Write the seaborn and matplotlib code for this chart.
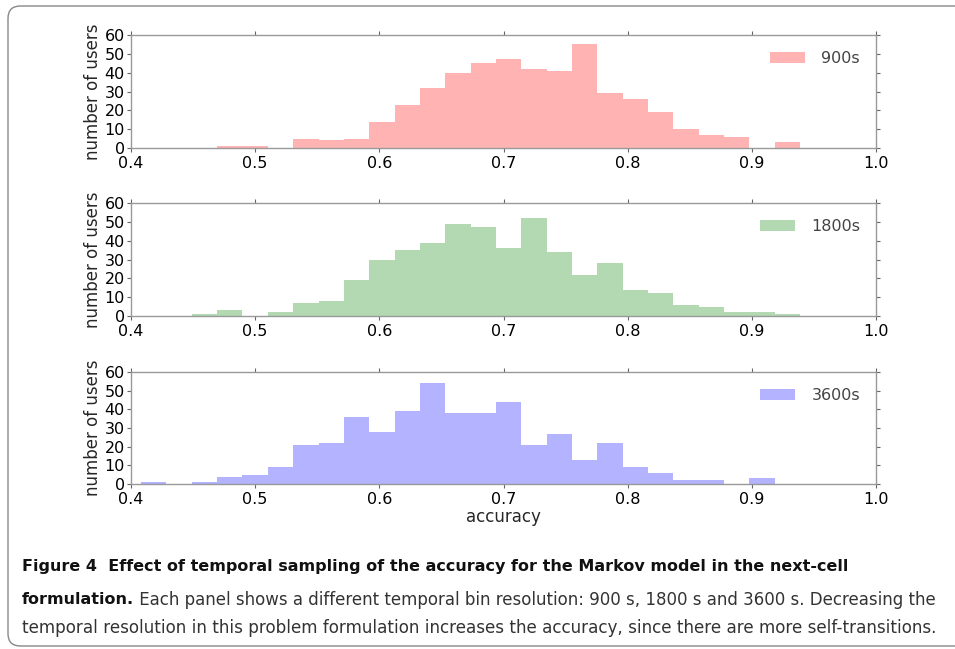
import numpy as np
import pandas as pd
import matplotlib
matplotlib.use('Agg')
import matplotlib.pyplot as plt
import seaborn as sns
from matplotlib.patches import FancyBboxPatch

# bin edges shared by the three panels (k/49)
edges = np.linspace(0, 1, 50)
centers = (edges[:-1] + edges[1:]) / 2

# counts per bin, starting at bin [20/49, 21/49) ~ 0.408
counts_900 = [0, 0, 0, 1, 1, 0, 5, 4, 5, 14, 23, 32, 40, 45, 47, 42, 41, 55,
              29, 26, 19, 10, 7, 6, 0, 3, 0]
counts_1800 = [0, 0, 1, 3, 0, 2, 7, 8, 19, 30, 35, 39, 49, 47, 36, 52, 34, 22,
               28, 14, 12, 6, 5, 2, 2, 1, 0]
counts_3600 = [1, 0, 1, 4, 5, 9, 21, 22, 36, 28, 39, 54, 38, 38, 44, 21, 27, 13,
               22, 9, 6, 2, 2, 0, 3, 0, 0]

labels = ['900s', '1800s', '3600s']
colors = ['#ffb3b3', '#b3d9b3', '#b3b3ff']
x_ticks = [0.4, 0.5, 0.6, 0.7, 0.8, 0.9, 1.0]
y_ticks = [0, 10, 20, 30, 40, 50, 60]

caption_1 = 'Figure 4  Effect of temporal sampling of the accuracy for the Markov model in the next-cell'
caption_2b = 'formulation.'
caption_2 = ' Each panel shows a different temporal bin resolution: 900 s, 1800 s and 3600 s. Decreasing the'
caption_3 = 'temporal resolution in this problem formulation increases the accuracy, since there are more self-transitions.'

sns.set_style('ticks')
plt.rcParams['font.family'] = ['DejaVu Sans']
plt.rcParams['axes.edgecolor'] = '#999999'
plt.rcParams['xtick.color'] = '#666666'
plt.rcParams['ytick.color'] = '#666666'
plt.rcParams['xtick.labelcolor'] = 'black'
plt.rcParams['ytick.labelcolor'] = 'black'

W, H = 955, 649
fig = plt.figure(figsize=(W / 100, H / 100), dpi=100)

# axes placement in pixels: (top, bottom)
panels = [(35, 148), (203, 316), (372, 484)]
left_px, right_px = 131, 876
all_counts = [counts_900, counts_1800, counts_3600]
offset = 20

for i, (top, bot) in enumerate(panels):
    ax = fig.add_axes([left_px / W, 1 - bot / H, (right_px - left_px) / W, (bot - top) / H])
    c = np.zeros(len(centers))
    c[offset:offset + len(all_counts[i])] = all_counts[i]
    df = pd.DataFrame({'accuracy': centers, 'users': c})
    sns.histplot(data=df, x='accuracy', weights='users', bins=list(edges), element='step', fill=True,
                 color=colors[i], alpha=1, linewidth=0, label=labels[i], ax=ax)
    ax.set_xlim(0.4, 1.0)
    ax.set_ylim(0, 60)
    ax.set_xticks(x_ticks)
    ax.set_xticklabels([f'{v:.1f}' for v in x_ticks])
    ax.set_yticks(y_ticks)
    ax.tick_params(axis='both', which='both', direction='out', length=3, width=0.8,
                   labelsize=11.5, top=True, right=True)
    ax.tick_params(axis='x', pad=2.5)
    ax.tick_params(axis='y', pad=1.5)
    for s in ax.spines.values():
        s.set_visible(True)
        s.set_linewidth(1.0)
    ax.set_ylabel('number of users', fontsize=12, labelpad=2)
    ax.set_xlabel('accuracy' if i == 2 else '', fontsize=12, labelpad=1)
    ax.legend(loc='upper right', frameon=False, fontsize=11.5, labelcolor='#444444',
              handlelength=2.2, handleheight=0.75, borderaxespad=0.6, handletextpad=1.0)

# caption box
box = FancyBboxPatch((8 / W, 1 - 646 / H), 1.2, (646 - 6) / H,
                     boxstyle='round,pad=0,rounding_size=0.013',
                     mutation_aspect=W / H, transform=fig.transFigure,
                     fill=False, edgecolor='#888888', linewidth=1.0)
fig.patches.append(box)

cap_font = ['Liberation Sans Narrow', 'DejaVu Sans']
cap_size = 13
x0 = 22 / W
t1 = fig.text(x0, 1 - 567 / H, caption_1, fontsize=cap_size, fontweight='bold',
              family=cap_font, va='center', ha='left', color='#111111')
t2b = fig.text(x0, 1 - 600 / H, caption_2b, fontsize=cap_size, fontweight='bold',
               family=cap_font, va='center', ha='left', color='#111111')
t3 = fig.text(x0, 1 - 628 / H, caption_3, fontsize=cap_size,
              family=cap_font, va='center', ha='left', color='#333333')

fig.canvas.draw()
r = fig.canvas.get_renderer()
# scale caption lines so they span the same widths as the reference
scale = (936 - 22) / t3.get_window_extent(r).width
scale_b = (843 - 22) / t1.get_window_extent(r).width
t3.set_fontsize(cap_size * scale)
t1.set_fontsize(cap_size * scale_b)
t2b.set_fontsize(cap_size * scale_b)
fig.canvas.draw()
bb = t2b.get_window_extent(r)
t2 = fig.text(bb.x1 / W, 1 - 600 / H, caption_2, fontsize=cap_size * scale,
              family=cap_font, va='center', ha='left', color='#333333')
fig.canvas.draw()
w2 = t2.get_window_extent(r).width
t2.set_fontsize(cap_size * scale * (938 - bb.x1) / w2)

fig.savefig('out.png', dpi=100)
